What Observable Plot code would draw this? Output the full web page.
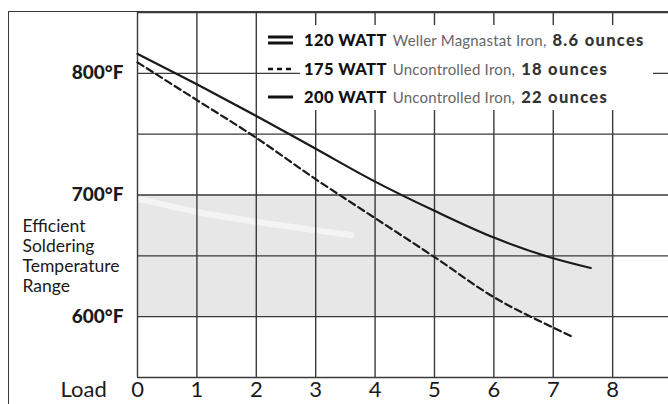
<!DOCTYPE html>
<html>
<head>
<meta charset="utf-8">
<script src="https://cdn.jsdelivr.net/npm/d3@7"></script>
<script src="https://cdn.jsdelivr.net/npm/@observablehq/plot@0.6"></script>
<style>
  html, body { margin: 0; padding: 0; background: white; }
  #wrap { position: relative; width: 668px; height: 404px; overflow: hidden; font-family: Lato, "DejaVu Sans", sans-serif; }
  #border { position: absolute; left: 8px; top: 11px; width: 670px; height: 400px;
            border-left: 1.6px solid #3a3a3a; border-top: 1.6px solid #3a3a3a; pointer-events: none; }
  #legendBg { position: absolute; left: 300px; top: 25px; width: 353px; height: 85px; background: white; }
  .row { position: absolute; left: 268px; height: 20px; display: flex; align-items: center; white-space: nowrap; }
  .row svg { margin-right: 11px; }
  .w { font-weight: 900; font-size: 16.5px; color: #111; letter-spacing: 0.4px; }
  .d { font-weight: 400; font-size: 15px; color: #666; margin: 0 6px; letter-spacing: 0.2px; }
  .o { font-weight: 900; font-size: 16.5px; color: #333; letter-spacing: 1.3px; }
</style>
</head>
<body>
<div id="wrap"></div>
<script>
// ---- data ----
const loadTicks = [0, 1, 2, 3, 4, 5, 6, 7, 8];
const gridX = [0, 1, 2, 3, 4, 5, 6, 7, 8, 9];
const gridY = [550, 600, 650, 700, 750, 800, 850];
const tempTicks = [600, 700, 800];
const bandLow = 600, bandHigh = 700, bandEnd = 8;
const rangeLabel = "Efficient\nSoldering\nTemperature\nRange";
const xLabel = "Load";

// 120 WATT Weller Magnastat (white line in band)
const load120 = [0, 1, 2, 3, 3.6];
const temp120 = [697, 686, 678, 671, 667];
// 175 WATT uncontrolled (dashed)
const load175 = [0, 1, 2, 3, 4, 5, 6, 7, 7.3];
const temp175 = [809, 778, 747, 713, 681, 649, 616, 591, 584];
// 200 WATT uncontrolled (solid)
const load200 = [0, 1, 2, 3, 4, 5, 6, 7, 7.63];
const temp200 = [816, 791, 765, 738, 711, 687, 665, 648, 640];

const legendWatts = ["120 WATT", "175 WATT", "200 WATT"];
const legendDesc = ["Weller Magnastat Iron,", "Uncontrolled Iron,", "Uncontrolled Iron,"];
const legendWeight = ["8.6 ounces", "18 ounces", "22 ounces"];
const legendStyle = ["double", "dashed", "solid"];

const toRows = (xs, ys) => xs.map((x, i) => ({x, y: ys[i]}));

const chart = Plot.plot({
  width: 668,
  height: 404,
  marginLeft: 137,
  marginTop: 12,
  marginRight: 0,
  marginBottom: 27,
  x: {domain: [0, 8.94]},
  y: {domain: [550, 850]},
  style: {fontFamily: "Lato, 'DejaVu Sans', sans-serif", background: "white", color: "#1a1a1a"},
  marks: [
    Plot.rect([{x1: 0, x2: bandEnd, y1: bandLow, y2: bandHigh}], {x1: "x1", x2: "x2", y1: "y1", y2: "y2", fill: "#e7e7e7"}),
    Plot.line(toRows(load120, temp120), {x: "x", y: "y", stroke: "white", strokeWidth: 6, strokeOpacity: 0.55, curve: "monotone-x"}),
    Plot.ruleX(gridX, {stroke: "#3a3a3a", strokeWidth: 1.4}),
    Plot.ruleY(gridY, {stroke: "#3a3a3a", strokeWidth: 1.4}),
    Plot.line(toRows(load175, temp175), {x: "x", y: "y", stroke: "#1a1a1a", strokeWidth: 2.2, strokeDasharray: "7,4", curve: "monotone-x"}),
    Plot.line(toRows(load200, temp200), {x: "x", y: "y", stroke: "#1a1a1a", strokeWidth: 2.2, curve: "monotone-x"}),
    Plot.axisY(tempTicks, {tickSize: 0, tickPadding: 14, fontSize: 19, fontWeight: 900, tickFormat: d => `${d}°F`, label: null, style: "letter-spacing:0.6px"}),
    Plot.axisX(loadTicks, {tickSize: 0, tickPadding: 4, fontSize: 22, fontWeight: 400, label: null}),
    Plot.text([xLabel], {frameAnchor: "bottom-left", dx: -77, dy: 4, fontSize: 22, textAnchor: "start", lineAnchor: "top"}),
    Plot.text([{label: rangeLabel, y: (bandLow + bandHigh) / 2}], {text: "label", y: "y", frameAnchor: "left", dx: -115, textAnchor: "start", fontSize: 17.5, lineHeight: 1.15, style: "letter-spacing:0.4px"})
  ]
});

const wrap = document.getElementById("wrap");
wrap.appendChild(chart);
const bg = document.createElement("div"); bg.id = "legendBg"; wrap.appendChild(bg);
const border = document.createElement("div"); border.id = "border"; wrap.appendChild(border);

const rowCenters = [40, 69, 97];
legendWatts.forEach((w, i) => {
  const row = document.createElement("div");
  row.className = "row";
  row.style.top = (rowCenters[i] - 10) + "px";
  let sample;
  if (legendStyle[i] === "double") sample = '<line x1="0" x2="25" y1="7" y2="7" stroke="#111" stroke-width="3"/><line x1="0" x2="25" y1="13" y2="13" stroke="#111" stroke-width="3"/>';
  else if (legendStyle[i] === "dashed") sample = '<line x1="0" x2="25" y1="10" y2="10" stroke="#111" stroke-width="2.5" stroke-dasharray="5,4"/>';
  else sample = '<line x1="0" x2="25" y1="10" y2="10" stroke="#111" stroke-width="3"/>';
  row.innerHTML = `<svg width="25" height="20">${sample}</svg><span class="w">${w}</span><span class="d">${legendDesc[i]}</span><span class="o">${legendWeight[i]}</span>`;
  wrap.appendChild(row);
});
</script>
</body>
</html>
